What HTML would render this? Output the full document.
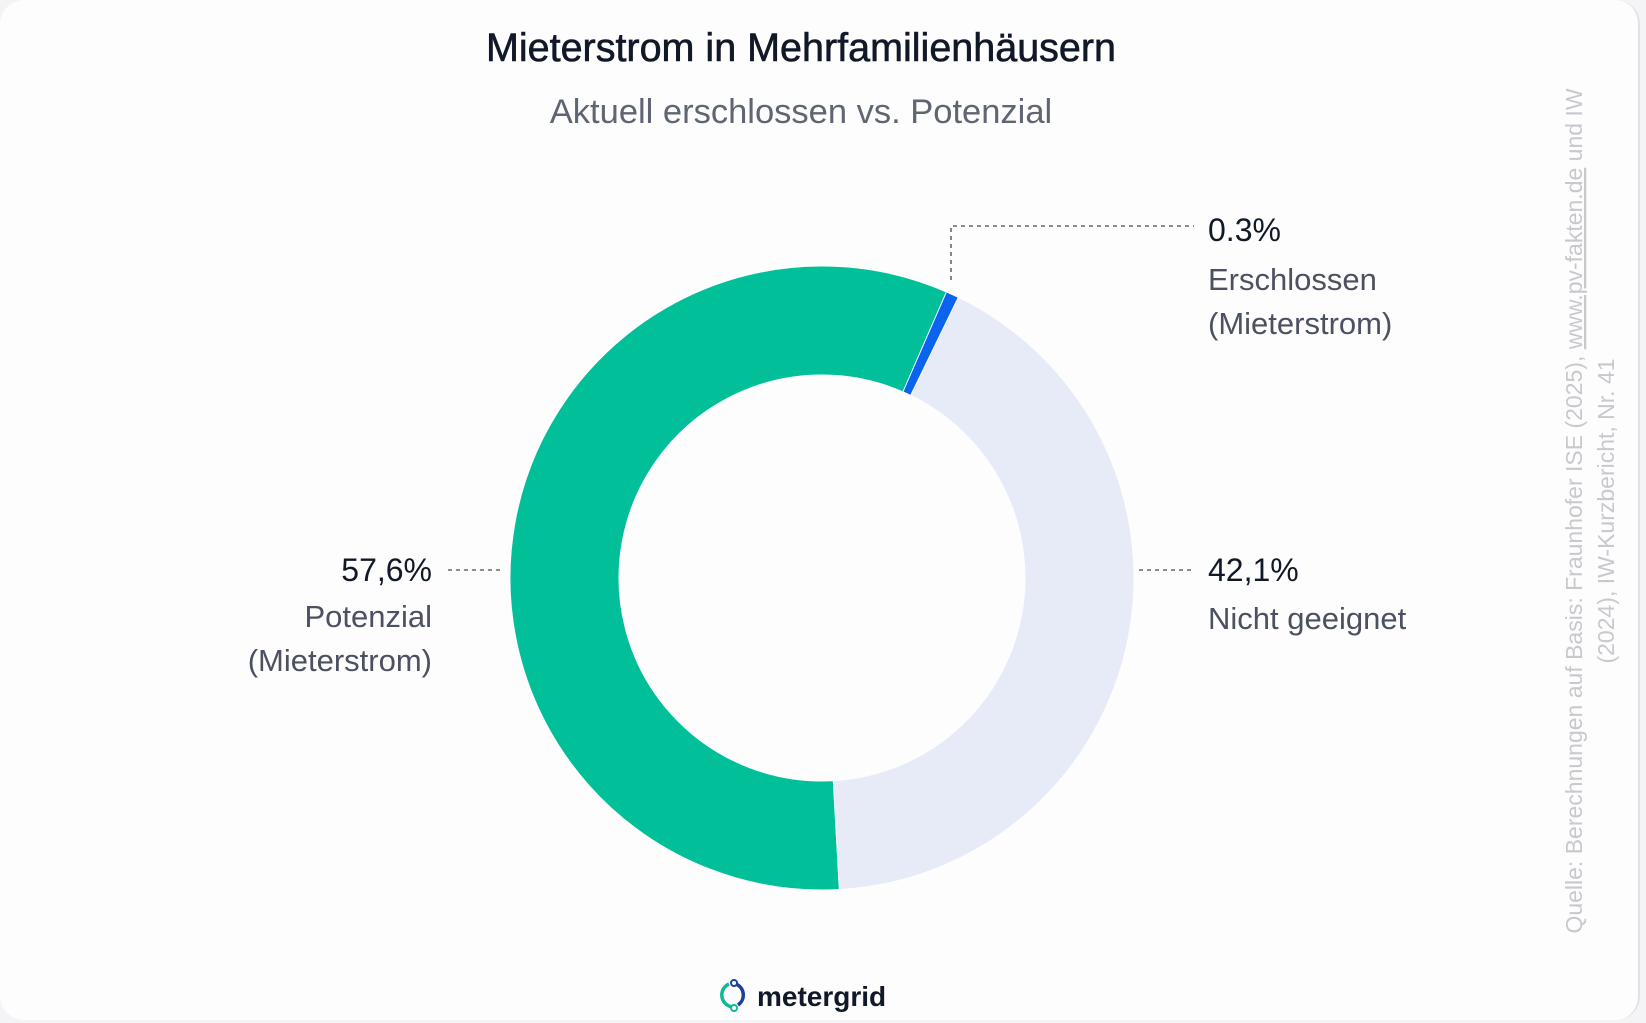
<!DOCTYPE html>
<html><head><meta charset="utf-8"><style>
html,body{margin:0;padding:0;background:#f4f4f6;}
body{width:1646px;height:1023px;overflow:hidden;font-family:"Liberation Sans",sans-serif;}
.card{position:absolute;left:0;top:0;width:1638px;height:1020px;background:#fdfdfe;border-radius:24px;border-right:2px solid #e2e2e6;}
</style></head><body>
<div class="card"></div>
<svg id="chart" width="1646" height="1023" style="position:absolute;left:0;top:0">
<text x="801" y="61" text-anchor="middle" font-size="39.5" fill="#111827" stroke="#111827" stroke-width="0.6">Mieterstrom in Mehrfamilienhäusern</text>
<text x="801" y="123" text-anchor="middle" font-size="34.5" fill="#5f6571">Aktuell erschlossen vs. Potenzial</text>
<g id="slices"></g>
<g fill="none" stroke="#666" stroke-width="1.6" stroke-dasharray="4,4">
<polyline points="951,280 951,226 1194,226"/>
<line x1="1139" y1="570" x2="1194" y2="570"/>
<line x1="448" y1="570" x2="504" y2="570"/>
</g>
<g font-size="32" fill="#111827">
<text x="1208" y="241">0.3%</text>
<text x="1208" y="581">42,1%</text>
<text x="432" y="581" text-anchor="end">57,6%</text>
</g>
<g font-size="31" fill="#4b5160">
<text x="1208" y="290">Erschlossen</text>
<text x="1208" y="334">(Mieterstrom)</text>
<text x="1208" y="629">Nicht geeignet</text>
<text x="432" y="627" text-anchor="end">Potenzial</text>
<text x="432" y="671" text-anchor="end">(Mieterstrom)</text>
</g>
<g font-size="23" fill="#c8c9cd" text-anchor="middle">
<text transform="translate(1582,511) rotate(-90)">Quelle: Berechnungen auf Basis: Fraunhofer ISE (2025), <tspan text-decoration="underline">www.pv-fakten.de</tspan> und IW</text>
<text transform="translate(1614,511) rotate(-90)">(2024), IW-Kurzbericht, Nr. 41</text>
</g>
<g>
<path d="M729,984 A12,12 0 0 0 734,1007" fill="none" stroke="#10b896" stroke-width="3.5"/>
<path d="M736,984 A12,12 0 0 1 738,1005" fill="none" stroke="#1d3f9e" stroke-width="3.5"/>
<circle cx="734" cy="983" r="3" fill="#fff" stroke="#1d3f9e" stroke-width="2"/>
<circle cx="734" cy="1008" r="3" fill="#fff" stroke="#10b896" stroke-width="2"/>
<text x="757" y="1006" font-size="28" font-weight="bold" fill="#111827">metergrid</text>
</g>
</svg>
<script>
const categories = ["Potenzial (Mieterstrom)", "Erschlossen (Mieterstrom)", "Nicht geeignet"];
const values = [57.6, 0.3, 42.1];
const colors = ["#00bf99", "#0b63f0", "#e7eaf7"];
const cx = 822, cy = 578, R = 312, r = 203;
const startDeg = 176.8;
const minSweep = 2.4;
function pt(a, rad){ const t = (a - 90) * Math.PI / 180; return [cx + rad * Math.cos(t), cy + rad * Math.sin(t)]; }
const total = values.reduce((a, b) => a + b, 0);
const g = document.getElementById('slices');
const order = [0, 2, 1];
const spans = [];
let acc = startDeg;
values.forEach((v, i) => { spans.push([acc, acc + v / total * 360]); acc += v / total * 360; });
order.forEach(i => {
  let [a0, a1] = spans[i];
  if (a1 - a0 < minSweep) { const m = (a0 + a1) / 2; a0 = m - minSweep / 2; a1 = m + minSweep / 2; }
  const large = (a1 - a0) > 180 ? 1 : 0;
  const p1 = pt(a0, R), p2 = pt(a1, R), p3 = pt(a1, r), p4 = pt(a0, r);
  const p = document.createElementNS('http://www.w3.org/2000/svg', 'path');
  p.setAttribute('d', `M${p1[0]},${p1[1]} A${R},${R} 0 ${large} 1 ${p2[0]},${p2[1]} L${p3[0]},${p3[1]} A${r},${r} 0 ${large} 0 ${p4[0]},${p4[1]} Z`);
  p.setAttribute('fill', colors[i]);
  p.setAttribute('stroke', '#fdfdfe');
  p.setAttribute('stroke-width', '1');
  
  
  g.appendChild(p);
});
</script>
</body></html>
